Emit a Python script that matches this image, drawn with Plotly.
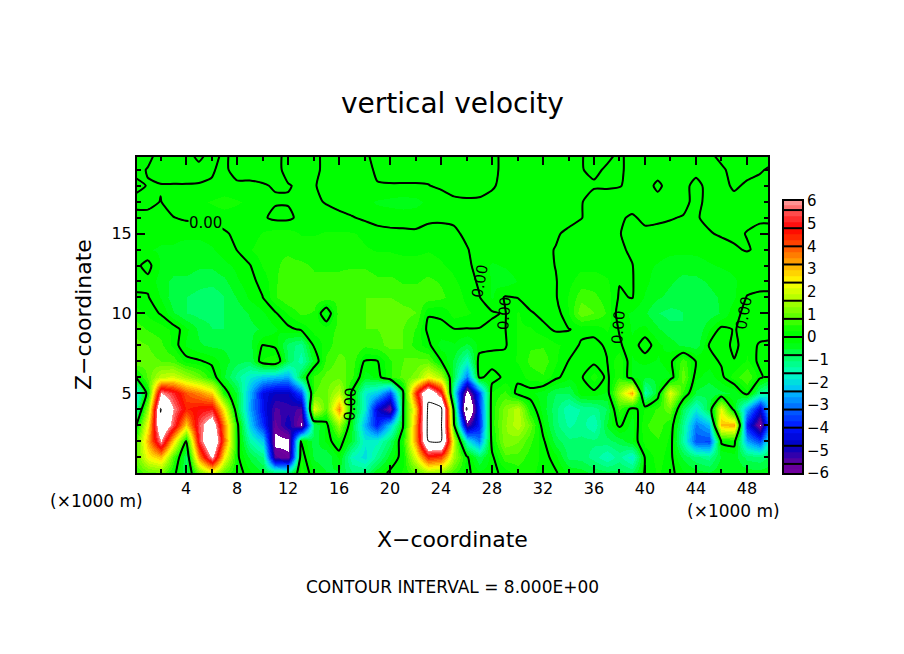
import numpy as np
import plotly.graph_objects as go

# figure size and the default body margin of the written page, in pixels
WIDTH = 904
HEIGHT = 654
PAGE_MARGIN = 8
FONT = "DejaVu Sans"

x_km = list(range(51))
# rows run from the top of the domain down to the ground
z_km = list(range(20, -1, -1))
vertical_velocity = [
    [.1, .1, -.1, -.1, -.1, .1, -.1, .05, -.1, -.1, -.1, -.1, .1, .1, .1, -.1, -.1, -.1, -.05, .1, .1, .1, .1, .1, .1, .1, .1, .1, .1, -.1, -.1, -.1, -.1, -.1, -.1, -.02, .1, .1, -.05, .1, .1, .1, .1, .1, .1, .05, -.1, -.1, -.1, -.1, -.1],
    [.1, -.02, -.15, -.15, -.15, -.1, -.02, .05, -.1, -.1, -.1, -.1, .1, .1, .1, -.1, -.1, -.1, -.1, .05, .1, .1, .1, .1, .1, .1, .1, .1, .1, -.1, -.1, -.1, -.1, -.1, -.1, -.02, .08, -.05, -.05, .1, .1, .1, .1, .1, .1, .1, .05, -.1, -.1, -.03, .05],
    [-.1, .02, .02, .02, .02, .02, .02, .05, .05, .05, .02, -.02, -.02, .05, .03, -.1, -.15, -.15, -.1, -.02, -.02, -.02, -.02, -.01, .05, .1, .1, .08, .02, -.05, -.1, -.1, -.1, -.1, -.08, -.05, -.05, -.05, -.02, .1, .1, -.05, .1, .1, -.1, .1, .1, -.05, .05, .08, .1],
    [.1, .1, -.01, .15, .2, .2, .3, .4, .3, .2, .1, .03, .03, .1, .05, -.02, -.1, -.15, -.2, -.3, -.35, -.4, -.35, -.2, -.15, -.05, -.03, -.03, -.05, -.1, -.1, -.1, -.1, -.1, -.1, -.03, .2, .2, .2, .1, .1, .08, .1, .1, -.1, .1, .1, .1, .1, .1, .1],
    [-.1, -.1, -.08, -.01, .05, .05, .08, .1, .1, .1, .05, -.08, -.08, .1, .1, .1, .08, .02, -.05, -.1, -.1, -.1, -.1, -.05, -.05, -.05, -.05, -.1, -.1, -.1, -.1, -.1, -.1, -.1, -.08, -.01, .1, .1, .03, -.03, .05, .05, .02, -.02, -.02, .05, .08, .08, .05, .03, .03],
    [-.15, -.15, -.2, -.2, -.2, -.2, -.15, -.03, .05, .15, .3, .4, .4, .25, .25, .3, .3, .3, .2, .1, .06, .05, .04, .08, .1, .05, -.05, -.1, -.1, -.1, -.1, -.1, -.1, -.03, .05, .1, .1, .1, .01, -.08, -.05, -.08, -.1, -.1, -.1, -.02, .03, .05, -.01, -.05, -.05],
    [-.2, -.25, -.3, -.3, -.4, -.4, -.3, -.15, .01, .25, .4, .5, .5, .4, .4, .4, .4, .4, .3, .25, .25, .2, .2, .25, .2, .1, .02, -.1, -.15, -.15, -.1, -.1, -.05, .01, .1, .15, .15, .1, .05, -.05, -.1, -.15, -.2, -.2, -.2, -.15, -.1, -.03, .02, -.05, -.05],
    [-.1, .12, -.3, -.4, -.4, -.5, -.5, -.35, -.2, -.02, .3, .5, .6, .6, .5, .5, .5, .5, .5, .4, .4, .4, .4, .4, .3, .2, .1, -.15, -.3, -.25, -.15, -.15, -.1, .01, .1, .2, .2, .15, .1, .01, -.2, -.3, -.4, -.45, -.4, -.3, -.25, -.2, -.15, -.1, -.1],
    [-.1, -.1, -.4, -.6, -.6, -.7, -.7, -.6, -.3, -.1, .1, .5, .7, .7, .6, .6, .6, .7, .7, .6, .6, .5, .5, .6, .5, .3, .15, -.05, -.3, -.4, -.25, -.2, -.1, -.02, .2, .4, .4, .3, .02, .02, -.2, -.4, -.5, -.6, -.6, -.5, -.4, -.3, -.15, -.05, -.05],
    [.05, .03, -.3, -.7, -.8, -.9, -1, -.8, -.5, -.2, -.01, .5, .8, .8, .7, .7, .6, .7, .8, .8, .8, .7, .7, .7, .6, .4, .2, .02, -.3, .03, -.01, -.2, -.15, -.03, .3, .7, .6, .4, -.05, .02, -.3, -.5, -.6, -.7, -.7, -.6, -.5, -.3, .02, .03, .03],
    [.4, .2, -.03, -.5, -.8, -.9, -.9, -.8, -.7, -.5, -.3, -.05, .3, .6, .5, -.4, .7, .7, .8, 1, 1, .9, .8, .03, .03, .4, .3, .2, .05, -.03, .3, .05, -.1, -.2, .3, 1, .8, .5, -.2, -.3, -.5, -.8, -.9, -.8, -.8, -.7, -.5, -.1, .1, .2, .15],
    [.7, .5, .4, .2, -.2, -.6, -.8, -.8, -.7, -.6, -.5, -.3, -.1, .05, .4, .4, .6, .7, .8, .8, .9, .8, .5, -.1, -.05, -.02, -.02, -.02, -.1, -.02, .3, .3, .1, -.05, -.02, .1, .1, .3, -.03, -.3, -.2, -.5, -.7, -.8, -.8, -.3, .1, -.02, .1, .2, .2],
    [.9, .8, .6, .2, -.3, -.5, -.6, -.6, -.7, -.6, .02, -.1, -.9, -1.2, .03, .4, .7, .8, .6, .7, .9, .8, .4, .1, -.4, -.3, -.6, -.2, -.1, -.05, .3, .5, .5, .3, .2, -.05, -.1, .05, .05, -.2, .2, -.2, -.4, -.6, -.7, .01, .2, -.1, .2, -.05, -.1],
    [1.1, .9, .8, .7, .15, .05, -.1, -.4, -.7, -.8, .3, .5, -.8, -1.5, -.4, .6, .9, .7, -.03, -.03, .5, .8, .9, .9, .02, -.6, -1.6, .2, .2, .15, .3, .6, .7, .3, -.01, -.1, -.1, -.02, .5, -.3, -.2, -.3, -.1, .7, -.02, -.15, .05, .02, .3, -.1, -.2],
    [-.05, .9, 1.8, 2, 1.5, 1, .3, -.5, -1.2, -1.8, -2.2, -2.4, -2.6, -.6, .6, .9, 1, .6, -.4, -.2, .5, .9, 1.2, 2.3, 1.6, -.8, -3, .1, -.2, .1, .1, .4, .5, .1, -.2, -.05, .4, -.1, .5, -.3, -.5, -.5, -.3, 1, -.2, -.4, -.1, .4, .8, .1, -.3],
    [-2.2, .3, 6, 5.2, 4, 3.5, 2.8, .3, -.6, -2.5, -4.3, -4.8, -4.8, -3.5, .8, 1, 1.8, -.1, -1.8, -2.2, -3.5, -.2, 4.5, 7.6, 5, -1.8, -6.5, -3.5, .3, .6, -.15, -.2, -.4, -.8, -.8, -.1, -.1, -.3, 1.5, 3.2, -1.5, -.3, 2.2, .5, -.6, -.8, -.6, -.5, .2, -1.2, -1.8],
    [-1.6, 1.5, 8.1, 6, 4.5, 4.8, 5, 2.4, -.5, -2.6, -4.2, -5.4, -5.2, -5.4, 2.2, .8, 3.5, -.2, -1.8, -4.5, -5.9, -.1, 3, 8.3, 8.5, -.2, -8.2, -3.8, .4, 1.2, 1.8, .3, -.4, -1, -1.6, -1.3, -1.2, -.8, .6, -.2, .3, .6, 1, -.8, -1.8, -.6, 2.2, -.3, -2.5, -4.5, -1.5],
    [-.3, 2.5, 7.6, 5.5, 2.8, 5.5, 7, 3.5, .2, -2.2, -3.8, -5.7, -4.8, -6.1, -.8, -.2, 1.5, -.5, -2.5, -4, -2.2, -.1, 3.5, 8.4, 8.3, .2, -5.5, -4, .4, 1.3, 1.8, 1, -.2, -1, -1.4, -1.2, -1.6, -.5, .1, -.4, .5, .7, .3, -1.2, -3, -2.4, 3, 3.2, -4, -6.1, -2],
    [.5, 3.2, 6, 2.8, -.02, 5.2, 8, 3.8, .2, -1.4, -2.2, -6.3, -6.2, .03, -.7, -.2, .3, -.6, -1.8, -1.7, -.9, .4, 3.5, 8, 8.1, 1.8, -1.8, -3, .2, 1.3, 1.1, .6, .1, -.7, -1, -1, -1, -.9, -.7, -.3, .4, .5, .2, -1.4, -3.4, -3.5, .1, .2, -2.6, -3.5, -1],
    [.8, 2.4, 3, .8, -.9, 3.5, 6.2, 2.5, .1, -.6, -1.1, -5.5, -5.9, .3, -.6, -.8, -.2, -1.6, -2, -1.2, -.4, .2, 2.2, 4.5, 4.2, 1.5, .1, -.8, -.1, .7, .7, .4, .2, -.2, -.9, -.9, -1.2, -1.6, -1.2, -1.8, .05, .4, .1, -.6, -1, -1.2, -.5, -.4, -.9, -1, -.7],
    [.5, .9, 1, .2, -.8, 1, 2, .8, .2, -.2, -.5, -.9, -1, .4, -.2, -.5, -.6, -1, -1, -.3, .1, .3, .8, 1.4, 1.2, .6, .1, -.2, -.1, .1, .4, .3, .2, .05, -.3, -.4, -.6, -.7, -.7, -.8, .05, .3, .1, -.2, -.4, -.5, -.3, -.3, -.4, -.4, -.3],
]

x_ticks = list(range(4, 50, 4))
z_ticks = [5, 10, 15]
colorbar_ticks = list(range(-6, 7))
colorbar_labels = [str(v).replace("-", "\u2212") for v in colorbar_ticks]
contour_levels = [round(0.8 * i, 1) for i in range(-7, 8)]
zero_labels = [
    (5.5, 15.65, 0),
    (16.9, 4.3, -88),
    (27.1, 12.0, -80),
    (29.0, 10.0, -85),
    (37.9, 9.1, -85),
    (47.8, 10.0, -80),
]

# colour at each contour level, blended into three shades per band
ANCHOR_LEVELS = [-6, -5.6, -4.8, -4, -3.2, -2.4, -1.6, -0.8, -0.27, 0.27, 0.8, 1.6, 2.4, 3.2, 4, 4.8, 5.6, 6]
ANCHOR_COLOURS = [
    (115, 0, 160), (100, 0, 155), (0, 0, 190), (0, 20, 255), (0, 100, 255),
    (0, 190, 255), (0, 255, 190), (0, 255, 90), (0, 255, 0), (0, 255, 0),
    (80, 255, 0), (170, 255, 0), (255, 255, 0), (255, 170, 0), (255, 80, 0),
    (255, 0, 0), (255, 90, 90), (255, 160, 160),
]
# the data runs past the scale, that part is left white
Z_LIMIT = 12


def _band_edges():
    step = 0.8 / 3
    return np.concatenate([[-6], step * np.arange(-22, 23), [6]])


def _stepped_colourscale():
    """Builds a stepped colourscale with three shades per contour band."""
    edges = _band_edges()
    span = 2 * Z_LIMIT
    scale = [[0, "white"], [(edges[0] + Z_LIMIT) / span, "white"]]
    for low, high in zip(edges[:-1], edges[1:]):
        mid = (low + high) / 2
        rgb = [
            int(np.interp(mid, ANCHOR_LEVELS, [c[i] for c in ANCHOR_COLOURS]))
            for i in range(3)
        ]
        colour = f"rgb({rgb[0]},{rgb[1]},{rgb[2]})"
        scale.append([(low + Z_LIMIT) / span, colour])
        scale.append([(high + Z_LIMIT) / span, colour])
    scale += [[(edges[-1] + Z_LIMIT) / span, "white"], [1, "white"]]
    return scale


def _px_x(px):
    return (px - PAGE_MARGIN) / WIDTH


def _px_y(px):
    return 1 - (px - PAGE_MARGIN) / HEIGHT


colourscale = _stepped_colourscale()
edges = _band_edges()
bar_mid = (edges[:-1] + edges[1:]) / 2
z_up = z_km[::-1]
velocity_up = vertical_velocity[::-1]

fig = go.Figure()
fig.add_trace(
    go.Heatmap(
        x=x_km, y=z_up, z=velocity_up, zmin=-Z_LIMIT, zmax=Z_LIMIT,
        colorscale=colourscale, zsmooth="best", showscale=False, hoverinfo="skip",
    )
)
fig.add_trace(
    go.Contour(
        x=x_km, y=z_up, z=velocity_up, showscale=False, hoverinfo="skip",
        autocontour=False, contours=dict(coloring="none", start=-8, end=8, size=8),
        line=dict(color="black", width=1, smoothing=0.6),
    )
)
fig.add_trace(
    go.Contour(
        x=x_km, y=z_up, z=velocity_up, showscale=False, hoverinfo="skip",
        autocontour=False, contours=dict(coloring="none", start=0, end=0, size=1),
        line=dict(color="black", width=2, smoothing=0.6),
    )
)

# colour key, drawn on its own axes so separators sit on the contour levels
fig.add_trace(
    go.Heatmap(
        x=[0], y=bar_mid, z=[[v] for v in bar_mid], zmin=-Z_LIMIT, zmax=Z_LIMIT,
        colorscale=colourscale, showscale=False, hoverinfo="skip",
        xaxis="x2", yaxis="y2",
    )
)
sep_x, sep_y = [], []
for level in contour_levels:
    sep_x += [-0.5, 0.5, None]
    sep_y += [level, level, None]
fig.add_trace(
    go.Scatter(
        x=sep_x, y=sep_y, mode="lines", line=dict(color="black", width=2),
        hoverinfo="skip", xaxis="x2", yaxis="y2",
    )
)

axis_style = dict(
    showgrid=False, zeroline=False, showline=True, linecolor="black", linewidth=2,
    mirror="ticks", ticks="inside", tickcolor="black", tickwidth=2, ticklen=8,
    tickfont=dict(family=FONT, size=16, color="black"),
)
fig.update_layout(
    width=WIDTH,
    height=HEIGHT,
    margin=dict(l=0, r=0, t=0, b=0, autoexpand=False),
    paper_bgcolor="white",
    plot_bgcolor="white",
    showlegend=False,
    xaxis=dict(
        domain=[_px_x(137), _px_x(768)], range=[0.15, 49.65],
        tickvals=x_ticks, ticktext=[str(v) for v in x_ticks],
        minor=dict(dtick=2, tick0=0, ticks="inside", ticklen=4, tickcolor="black", tickwidth=2),
        **axis_style,
    ),
    yaxis=dict(
        domain=[_px_y(473), _px_y(157)], range=[0, 19.8],
        tickvals=z_ticks, ticktext=[str(v) for v in z_ticks],
        minor=dict(dtick=1, tick0=0, ticks="inside", ticklen=4, tickcolor="black", tickwidth=2),
        **axis_style,
    ),
    xaxis2=dict(
        domain=[_px_x(784), _px_x(802)], range=[-0.5, 0.5], showticklabels=False,
        ticks="", showgrid=False, zeroline=False, showline=True, linecolor="black",
        linewidth=2, mirror=True, anchor="y2",
    ),
    yaxis2=dict(
        domain=[_px_y(473), _px_y(201)], range=[-6, 6], side="right", anchor="x2",
        tickvals=colorbar_ticks, ticktext=colorbar_labels, ticks="",
        showgrid=False, zeroline=False, showline=True, linecolor="black",
        linewidth=2, mirror=True, tickfont=dict(family=FONT, size=15, color="black"),
    ),
)


def _note(text, px, py, size, angle=0):
    fig.add_annotation(
        text=text, x=_px_x(px), y=_px_y(py), xref="paper", yref="paper",
        showarrow=False, textangle=angle, xanchor="center", yanchor="middle",
        font=dict(family=FONT, size=size, color="black"),
    )


_note("vertical velocity", 452, 103, 28)
_note("X\u2212coordinate", 452, 539, 22)
_note("Z\u2212coordinate", 83, 315, 22, -90)
_note("(\u00d71000 m)", 96, 501, 17)
_note("(\u00d71000 m)", 733, 511, 17)
_note("CONTOUR INTERVAL = 8.000E+00", 452, 587, 17)

for label_x, label_z, angle in zero_labels:
    fig.add_annotation(
        text="0.00", x=label_x, y=label_z, xref="x", yref="y", showarrow=False,
        textangle=angle, font=dict(family=FONT, size=15, color="black"),
        bgcolor="rgb(0,255,0)" if angle == 0 else None, borderpad=0,
    )

fig.write_html("out.html")
